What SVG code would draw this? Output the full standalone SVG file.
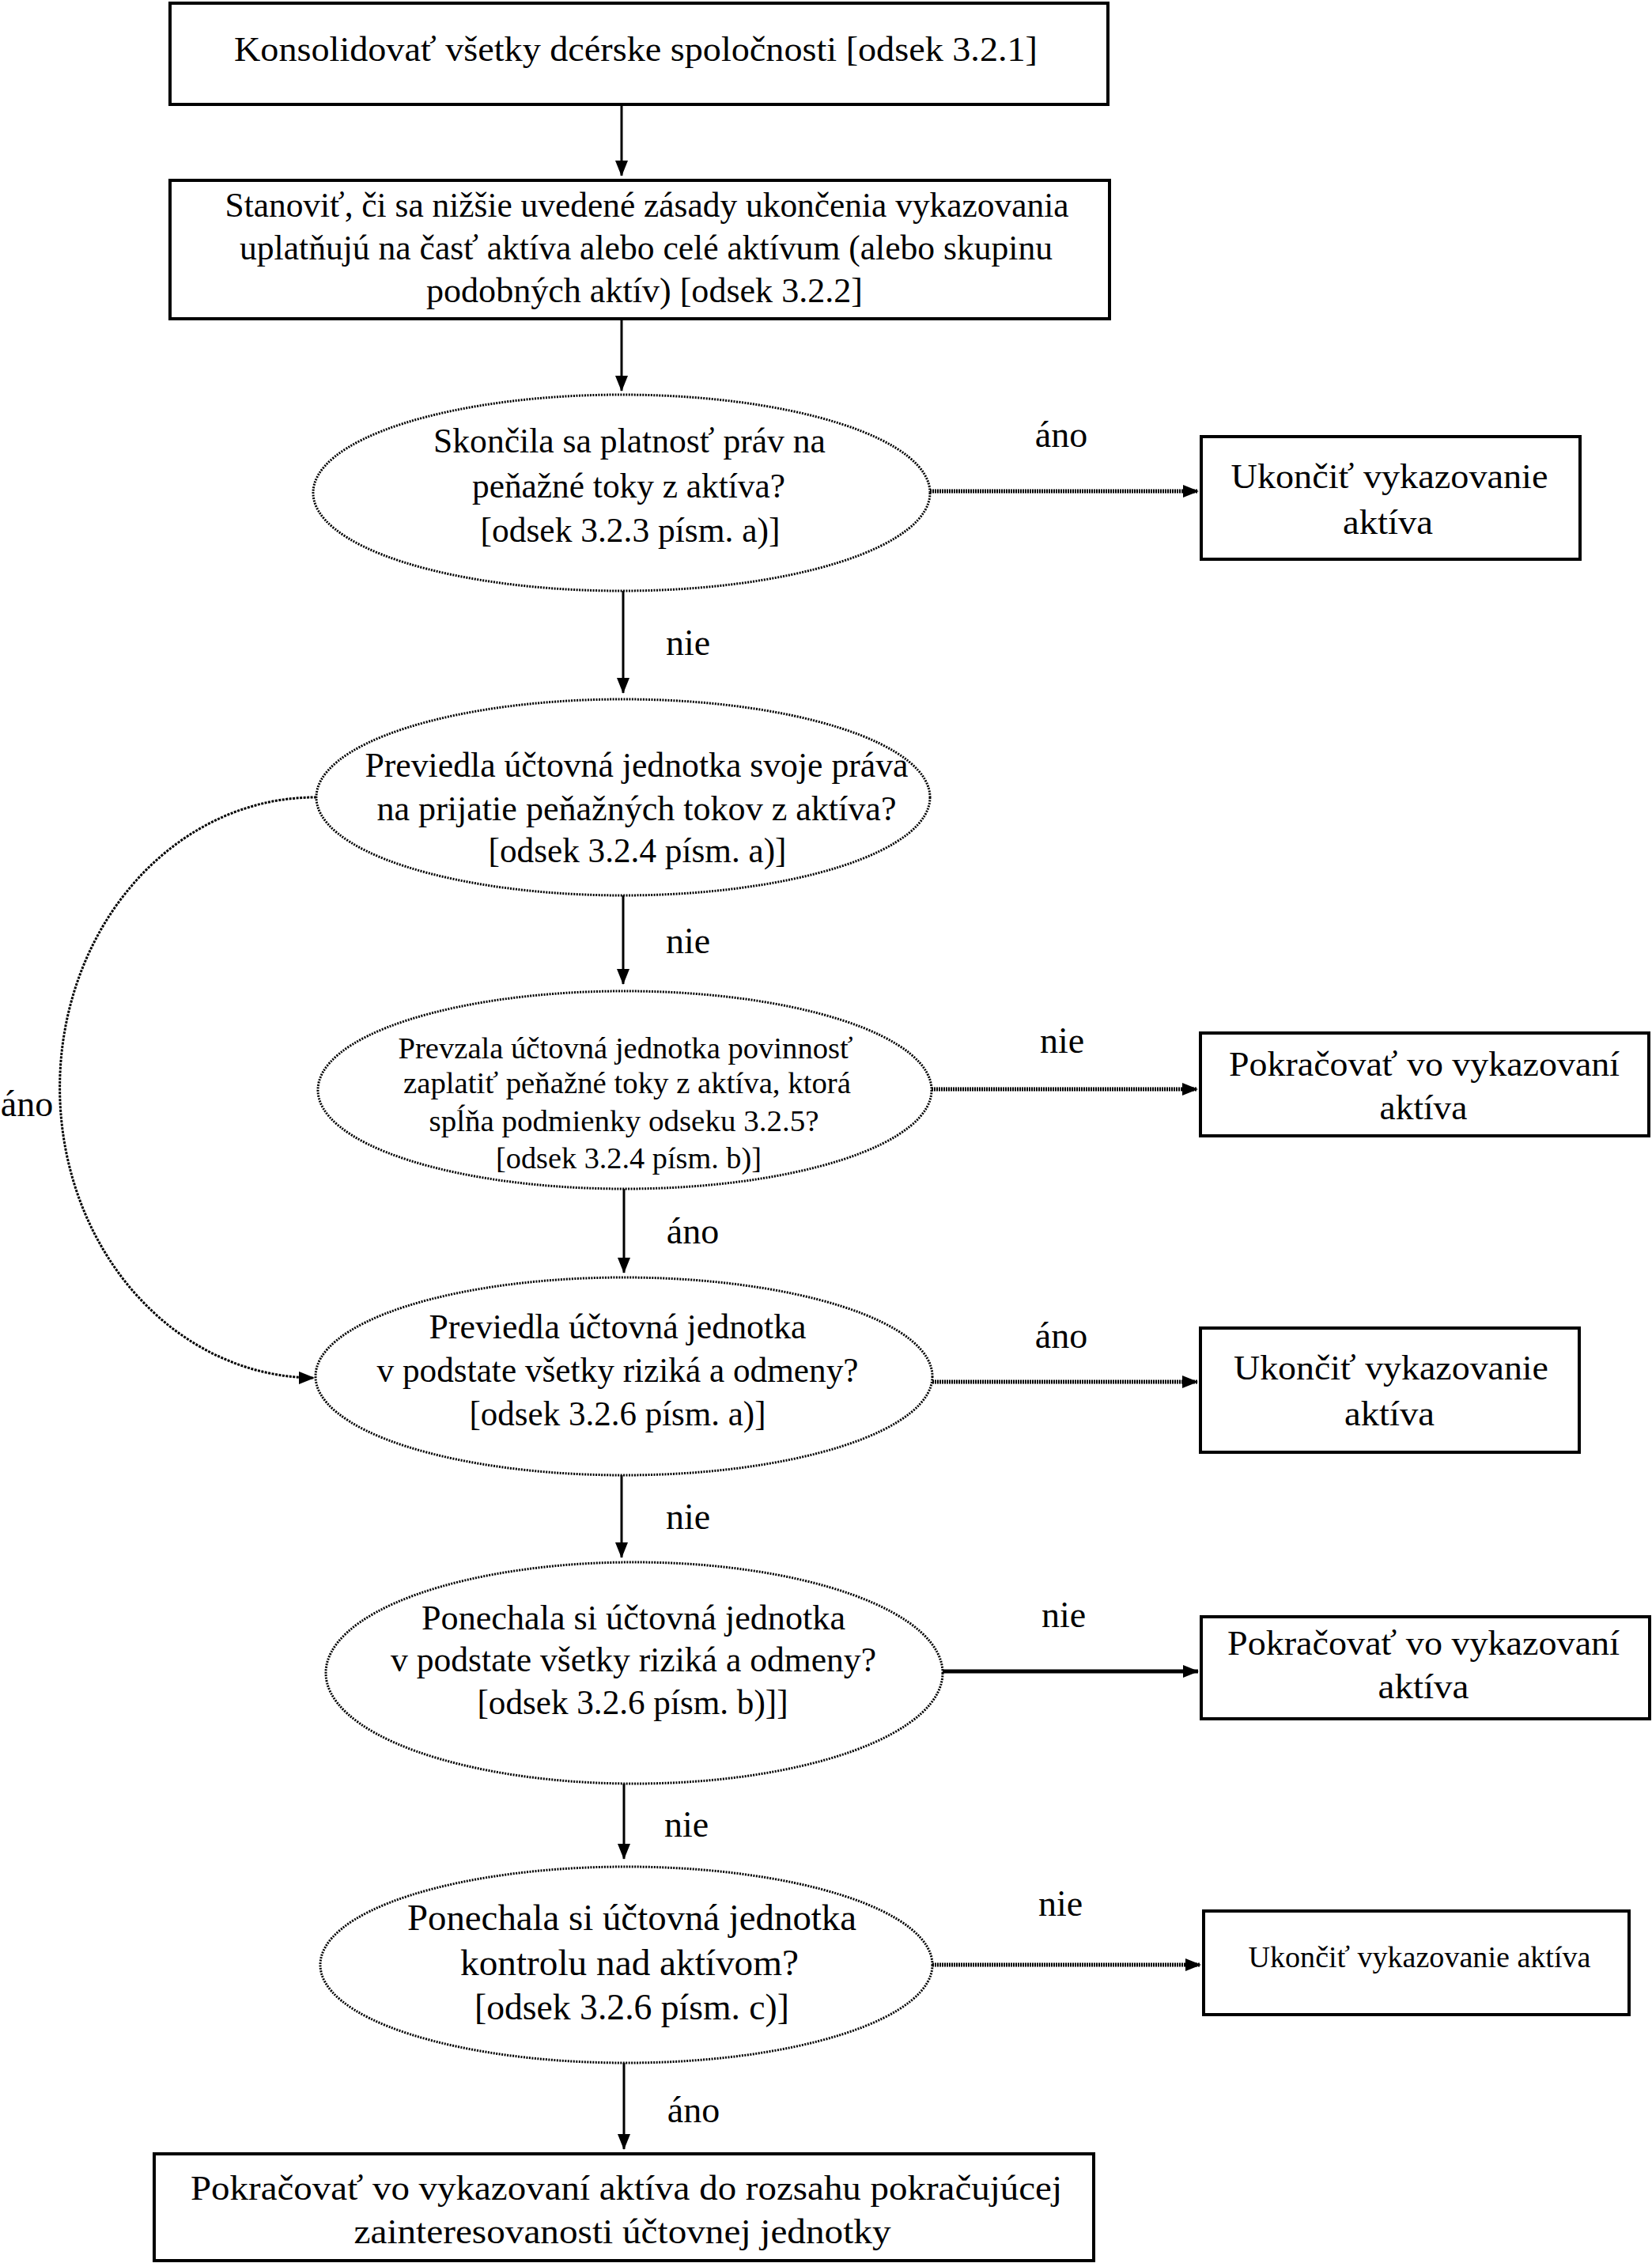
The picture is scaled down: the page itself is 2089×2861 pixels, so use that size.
<svg xmlns="http://www.w3.org/2000/svg" width="2089" height="2861" viewBox="0 0 2089 2861">
<style>
  .box { fill: #fff; stroke: #000; stroke-width: 4; }
  .ell { fill: #fff; stroke: #000; stroke-width: 3; stroke-dasharray: 2 1.5; }
  .t { font-family: "Liberation Serif", "Times New Roman", serif; font-size: 45px; fill: #000; text-anchor: middle; }
  .s { font-size: 38px; }
  .m { font-size: 47px; }
  .lbl { font-family: "Liberation Serif", "Times New Roman", serif; font-size: 46px; fill: #000; text-anchor: middle; }
  .v { stroke: #000; stroke-width: 3; fill: none; }
  .h { stroke: #000; stroke-width: 5; stroke-dasharray: 2 1; fill: none; }
  .hs { stroke: #000; stroke-width: 5; fill: none; }
  .cv { stroke: #000; stroke-width: 3; stroke-dasharray: 3 1.5; fill: none; }
</style>
<defs>
  <marker id="arr" viewBox="0 0 20 16" refX="19" refY="8" markerWidth="20" markerHeight="16" markerUnits="userSpaceOnUse" orient="auto">
    <path d="M0,0 L20,8 L0,16 z" fill="#000"/>
  </marker>
</defs>
<rect width="2089" height="2861" fill="#fff"/>

<g id="connectors">
  <line class="v" x1="786" y1="132" x2="786" y2="222" marker-end="url(#arr)"/>
  <line class="v" x1="786" y1="403" x2="786" y2="494" marker-end="url(#arr)"/>
  <line class="h" x1="1176" y1="621" x2="1515" y2="621" marker-end="url(#arr)"/>
  <line class="v" x1="788" y1="747" x2="788" y2="876" marker-end="url(#arr)"/>
  <line class="v" x1="788" y1="1132" x2="788" y2="1244" marker-end="url(#arr)"/>
  <path class="cv" d="M 400 1008 A 322 366 0 0 0 397 1742" marker-end="url(#arr)"/>
  <line class="h" x1="1178" y1="1377" x2="1514" y2="1377" marker-end="url(#arr)"/>
  <line class="v" x1="789" y1="1503" x2="789" y2="1609" marker-end="url(#arr)"/>
  <line class="h" x1="1179" y1="1747" x2="1514" y2="1747" marker-end="url(#arr)"/>
  <line class="v" x1="786" y1="1865" x2="786" y2="1969" marker-end="url(#arr)"/>
  <line class="hs" x1="1192" y1="2113" x2="1515" y2="2113" marker-end="url(#arr)"/>
  <line class="v" x1="789" y1="2255" x2="789" y2="2350" marker-end="url(#arr)"/>
  <line class="h" x1="1179" y1="2484" x2="1518" y2="2484" marker-end="url(#arr)"/>
  <line class="v" x1="789" y1="2608" x2="789" y2="2717" marker-end="url(#arr)"/>
</g>

<g id="labels">
  <text class="lbl" x="1342" y="565">áno</text>
  <text class="lbl" x="870" y="828">nie</text>
  <text class="lbl" x="870" y="1205">nie</text>
  <text class="lbl" x="1343" y="1331">nie</text>
  <text class="lbl" x="34" y="1411">áno</text>
  <text class="lbl" x="876" y="1572">áno</text>
  <text class="lbl" x="1342" y="1704">áno</text>
  <text class="lbl" x="870" y="1933">nie</text>
  <text class="lbl" x="1345" y="2057">nie</text>
  <text class="lbl" x="868" y="2322">nie</text>
  <text class="lbl" x="1341" y="2422">nie</text>
  <text class="lbl" x="877" y="2683">áno</text>
</g>

<g id="n1">
  <rect class="box" x="215" y="4" width="1186" height="128"/>
  <text class="t" x="804" y="77" textLength="1016" lengthAdjust="spacingAndGlyphs">Konsolidovať všetky dcérske spoločnosti [odsek 3.2.1]</text>
</g>

<g id="n2">
  <rect class="box" x="215" y="228" width="1188" height="175"/>
  <text class="t" x="818" y="274" textLength="1067" lengthAdjust="spacingAndGlyphs">Stanoviť, či sa nižšie uvedené zásady ukončenia vykazovania</text>
  <text class="t" x="817" y="328" textLength="1028" lengthAdjust="spacingAndGlyphs">uplatňujú na časť aktíva alebo celé aktívum (alebo skupinu</text>
  <text class="t" x="815" y="382" textLength="552" lengthAdjust="spacingAndGlyphs">podobných aktív) [odsek 3.2.2]</text>
</g>

<g id="d1">
  <ellipse class="ell" cx="786" cy="623" rx="390" ry="124"/>
  <text class="t" x="796" y="572" textLength="496" lengthAdjust="spacingAndGlyphs">Skončila sa platnosť práv na</text>
  <text class="t" x="795" y="629" textLength="396" lengthAdjust="spacingAndGlyphs">peňažné toky z aktíva?</text>
  <text class="t" x="797" y="685" textLength="379" lengthAdjust="spacingAndGlyphs">[odsek 3.2.3 písm. a)]</text>
</g>

<g id="u1">
  <rect class="box" x="1519" y="552" width="479" height="155"/>
  <text class="t" x="1757" y="617" textLength="401" lengthAdjust="spacingAndGlyphs">Ukončiť vykazovanie</text>
  <text class="t" x="1755" y="675" textLength="114" lengthAdjust="spacingAndGlyphs">aktíva</text>
</g>

<g id="d2">
  <ellipse class="ell" cx="788" cy="1008" rx="388" ry="124"/>
  <text class="t" x="805" y="982" textLength="687" lengthAdjust="spacingAndGlyphs">Previedla účtovná jednotka svoje práva</text>
  <text class="t" x="805" y="1037" textLength="657" lengthAdjust="spacingAndGlyphs">na prijatie peňažných tokov z aktíva?</text>
  <text class="t" x="806" y="1090" textLength="377" lengthAdjust="spacingAndGlyphs">[odsek 3.2.4 písm. a)]</text>
</g>

<g id="d3">
  <ellipse class="ell" cx="790" cy="1378" rx="388" ry="125"/>
  <text class="t s" x="791" y="1338" textLength="575" lengthAdjust="spacingAndGlyphs">Prevzala účtovná jednotka povinnosť</text>
  <text class="t s" x="793" y="1382" textLength="566" lengthAdjust="spacingAndGlyphs">zaplatiť peňažné toky z aktíva, ktorá</text>
  <text class="t s" x="789" y="1430" textLength="493" lengthAdjust="spacingAndGlyphs">spĺňa podmienky odseku 3.2.5?</text>
  <text class="t s" x="795" y="1477" textLength="336" lengthAdjust="spacingAndGlyphs">[odsek 3.2.4 písm. b)]</text>
</g>

<g id="p1">
  <rect class="box" x="1518" y="1306" width="567" height="130"/>
  <text class="t" x="1801" y="1360" textLength="494" lengthAdjust="spacingAndGlyphs">Pokračovať vo vykazovaní</text>
  <text class="t" x="1800" y="1415" textLength="111" lengthAdjust="spacingAndGlyphs">aktíva</text>
</g>

<g id="d4">
  <ellipse class="ell" cx="789" cy="1740" rx="390" ry="125"/>
  <text class="t" x="781" y="1692" textLength="477" lengthAdjust="spacingAndGlyphs">Previedla účtovná jednotka</text>
  <text class="t" x="781" y="1747" textLength="609" lengthAdjust="spacingAndGlyphs">v podstate všetky riziká a odmeny?</text>
  <text class="t" x="781" y="1802" textLength="375" lengthAdjust="spacingAndGlyphs">[odsek 3.2.6 písm. a)]</text>
</g>

<g id="u2">
  <rect class="box" x="1518" y="1679" width="479" height="157"/>
  <text class="t" x="1759" y="1744" textLength="398" lengthAdjust="spacingAndGlyphs">Ukončiť vykazovanie</text>
  <text class="t" x="1757" y="1802" textLength="114" lengthAdjust="spacingAndGlyphs">aktíva</text>
</g>

<g id="d5">
  <ellipse class="ell" cx="802" cy="2115" rx="390" ry="140"/>
  <text class="t" x="801" y="2060" textLength="536" lengthAdjust="spacingAndGlyphs">Ponechala si účtovná jednotka</text>
  <text class="t" x="801" y="2113" textLength="614" lengthAdjust="spacingAndGlyphs">v podstate všetky riziká a odmeny?</text>
  <text class="t" x="800" y="2167" textLength="393" lengthAdjust="spacingAndGlyphs">[odsek 3.2.6 písm. b)]]</text>
</g>

<g id="p2">
  <rect class="box" x="1519" y="2044" width="567" height="129"/>
  <text class="t" x="1800" y="2092" textLength="496" lengthAdjust="spacingAndGlyphs">Pokračovať vo vykazovaní</text>
  <text class="t" x="1800" y="2147" textLength="115" lengthAdjust="spacingAndGlyphs">aktíva</text>
</g>

<g id="d6">
  <ellipse class="ell" cx="792" cy="2484" rx="387" ry="124"/>
  <text class="t m" x="799" y="2440" textLength="568" lengthAdjust="spacingAndGlyphs">Ponechala si účtovná jednotka</text>
  <text class="t m" x="796" y="2497" textLength="428" lengthAdjust="spacingAndGlyphs">kontrolu nad aktívom?</text>
  <text class="t m" x="799" y="2553" textLength="398" lengthAdjust="spacingAndGlyphs">[odsek 3.2.6 písm. c)]</text>
</g>

<g id="u3">
  <rect class="box" x="1522" y="2416" width="538" height="131"/>
  <text class="t s" x="1795" y="2487" textLength="433" lengthAdjust="spacingAndGlyphs">Ukončiť vykazovanie aktíva</text>
</g>

<g id="n_end">
  <rect class="box" x="195" y="2723" width="1188" height="135"/>
  <text class="t" x="792" y="2781" textLength="1102" lengthAdjust="spacingAndGlyphs">Pokračovať vo vykazovaní aktíva do rozsahu pokračujúcej</text>
  <text class="t" x="787" y="2836" textLength="679" lengthAdjust="spacingAndGlyphs">zainteresovanosti účtovnej jednotky</text>
</g>
</svg>
